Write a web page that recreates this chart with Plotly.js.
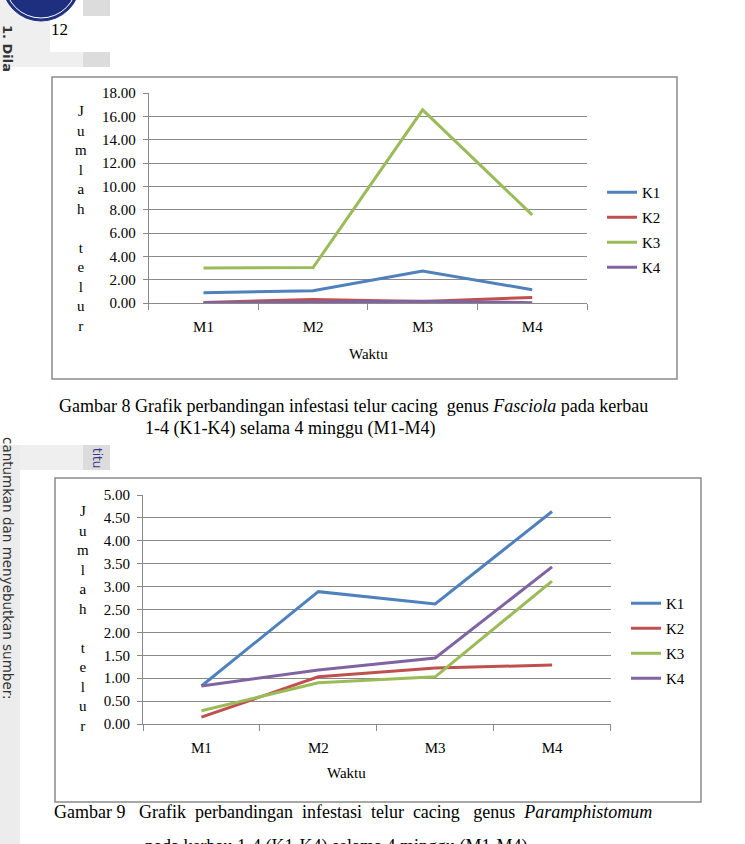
<!DOCTYPE html>
<html><head><meta charset="utf-8">
<script src="https://cdn.plot.ly/plotly-3.0.1.min.js"></script>
<style>html,body{margin:0;padding:0;background:#fff;overflow:hidden;} #chart{width:745px;height:844px;}</style>
</head><body><div id="chart"></div>
<script>
// ---- data ----
const weeks = ["M1", "M2", "M3", "M4"];
const seriesNames = ["K1", "K2", "K3", "K4"];
// Gambar 8: Fasciola
const fasciolaK1 = [0.88, 1.05, 2.74, 1.14];
const fasciolaK2 = [0.05, 0.30, 0.13, 0.48];
const fasciolaK3 = [3.00, 3.04, 16.55, 7.55];
const fasciolaK4 = [0.03, 0.10, 0.15, 0.03];
// Gambar 9: Paramphistomum
const paramK1 = [0.83, 2.89, 2.62, 4.64];
const paramK2 = [0.15, 1.03, 1.22, 1.29];
const paramK3 = [0.29, 0.90, 1.03, 3.12];
const paramK4 = [0.83, 1.18, 1.44, 3.43];
const yTicks1 = [0, 2, 4, 6, 8, 10, 12, 14, 16, 18];
const yTicks2 = [0, 0.5, 1, 1.5, 2, 2.5, 3, 3.5, 4, 4.5, 5];
const xTitle = "Waktu";
const yTitleLetters = ["J", "u", "m", "l", "a", "h", "", "t", "e", "l", "u", "r"];
const caption8a = "Gambar 8 Grafik perbandingan infestasi telur cacing  genus <i>Fasciola</i> pada kerbau";
const caption8b = "1-4 (K1-K4) selama 4 minggu (M1-M4)";
const caption9a = "Gambar 9   Grafik  perbandingan  infestasi  telur  cacing   genus  <i>Paramphistomum</i>";
const caption9b = "pada kerbau 1-4 (K1-K4) selama 4 minggu (M1-M4)";

// ---- styles ----
const colors = ["#4F81BD", "#C0504D", "#9BBB59", "#8064A2"];
const W = 745, H = 844;
const px = x => x / W;
const py = y => 1 - y / H;
const serif = "Liberation Serif, Times New Roman, serif";
const sans = "DejaVu Sans, sans-serif";
const grid = "#898989";

const set1 = [fasciolaK1, fasciolaK2, fasciolaK3, fasciolaK4];
const set2 = [paramK1, paramK2, paramK3, paramK4];
const traces = [];
set1.forEach((vals, i) => traces.push({
  x: weeks, y: vals, name: seriesNames[i], type: "scatter", mode: "lines",
  line: {color: colors[i], width: 3}, xaxis: "x", yaxis: "y",
  legend: "legend", legendgroup: "a" + i
}));
set2.forEach((vals, i) => traces.push({
  x: weeks, y: vals, name: seriesNames[i], type: "scatter", mode: "lines",
  line: {color: colors[i], width: 3}, xaxis: "x2", yaxis: "y2",
  legend: "legend2", legendgroup: "b" + i
}));

const fmt = v => v.toFixed(2);
const tickFont = {family: serif, size: 15, color: "#000"};
function xAxis(d0, d1, anchor) {
  return {domain: [px(d0), px(d1)], anchor: anchor, type: "category", range: [-0.5, 3.5],
    tickson: "boundaries", ticks: "outside", ticklen: 6, tickcolor: grid, tickwidth: 1,
    showline: true, linecolor: grid, linewidth: 1, showgrid: false, zeroline: false,
    tickfont: tickFont, ticklabelstandoff: 10, fixedrange: true};
}
function yAxis(top, bottom, anchor, maxv, ticks) {
  return {domain: [py(bottom), py(top)], anchor: anchor, range: [0, maxv],
    tickvals: ticks, ticktext: ticks.map(fmt), ticks: "outside", ticklen: 5, tickcolor: grid,
    showline: true, linecolor: grid, linewidth: 1, showgrid: true, gridcolor: grid, gridwidth: 1,
    zeroline: false, tickfont: tickFont, ticklabelstandoff: 4, fixedrange: true};
}

function legendAt(x, y) {
  return {x: px(x), y: py(y), xanchor: "left", yanchor: "top", bgcolor: "rgba(0,0,0,0)",
    font: {family: serif, size: 15, color: "#000"}, tracegroupgap: 2.5, itemwidth: 30};
}

const ann = [];
function txt(x, y, text, opts) {
  ann.push(Object.assign({x: px(x), y: py(y), xref: "paper", yref: "paper", text: text, showarrow: false,
    xanchor: "center", yanchor: "middle", font: {family: serif, size: 15, color: "#000"}}, opts || {}));
}
// y titles (stacked letters)
txt(81, 218, yTitleLetters.join("<br>"), {font: {family: serif, size: 15, color: "#000"}});
txt(83, 618, yTitleLetters.join("<br>"), {font: {family: serif, size: 15, color: "#000"}});
// x titles
txt(368, 354, xTitle);
txt(346, 773, xTitle);
// captions
const capFont = {family: serif, size: 18, color: "#000"};
txt(57, 406, caption8a, {xanchor: "left", font: capFont});
txt(143, 428, caption8b, {xanchor: "left", font: capFont});
txt(52, 812, caption9a, {xanchor: "left", font: capFont});
txt(143, 846, caption9b, {xanchor: "left", font: capFont});
// page number
txt(60, 30, "12", {font: {family: serif, size: 17, color: "#000"}});
// sidebar watermark texts
txt(8, 48, "<b>1. Dila</b>", {textangle: 90, font: {family: sans, size: 13, color: "#333"}});
txt(8, 568, "cantumkan dan menyebutkan sumber:", {textangle: 90, font: {family: sans, size: 13.5, color: "#333"}});
txt(97, 458, "titu", {textangle: 90, font: {family: sans, size: 12, color: "#3a3a8c"}});

const shapes = [
  // sidebar backgrounds
  {type: "rect", xref: "paper", yref: "paper", x0: 0, x1: px(50), y0: py(67), y1: py(0), fillcolor: "#efefef", line: {width: 0}, layer: "below"},
  {type: "rect", xref: "paper", yref: "paper", x0: px(83), x1: px(110), y0: py(16), y1: py(0), fillcolor: "#dcdcdc", line: {width: 0}, layer: "below"},
  {type: "rect", xref: "paper", yref: "paper", x0: px(83), x1: px(110), y0: py(67), y1: py(52), fillcolor: "#dcdcdc", line: {width: 0}, layer: "below"},
  {type: "rect", xref: "paper", yref: "paper", x0: px(50), x1: px(83), y0: py(67), y1: py(52), fillcolor: "#efefef", line: {width: 0}, layer: "below"},
  {type: "rect", xref: "paper", yref: "paper", x0: 0, x1: px(20), y0: 0, y1: py(445), fillcolor: "#ececec", line: {width: 0}, layer: "below"},
  {type: "rect", xref: "paper", yref: "paper", x0: px(20), x1: px(83), y0: py(470), y1: py(445), fillcolor: "#efefef", line: {width: 0}, layer: "below"},
  {type: "rect", xref: "paper", yref: "paper", x0: px(83), x1: px(110), y0: py(470), y1: py(445), fillcolor: "#dcdcdc", line: {width: 0}, layer: "below"},
  // logo
  {type: "circle", xref: "paper", yref: "paper", x0: px(2), x1: px(80), y0: py(21), y1: py(-57), fillcolor: "#1f2f80", line: {color: "#1f2f80", width: 1}, layer: "below"},
  {type: "circle", xref: "paper", yref: "paper", x0: px(5), x1: px(77), y0: py(18), y1: py(-54), fillcolor: "rgba(0,0,0,0)", line: {color: "#ffffff", width: 1}, layer: "below"},
  // chart boxes
  {type: "rect", xref: "paper", yref: "paper", x0: px(52), x1: px(677), y0: py(379), y1: py(77), line: {color: "#8a8a8a", width: 1.5}, fillcolor: "rgba(0,0,0,0)", layer: "below"},
  {type: "rect", xref: "paper", yref: "paper", x0: px(55), x1: px(701), y0: py(802), y1: py(478), line: {color: "#8a8a8a", width: 1.5}, fillcolor: "rgba(0,0,0,0)", layer: "below"}
];

const layout = {
  width: W, height: H, autosize: false, margin: {l: 0, r: 0, t: 0, b: 0, pad: 0},
  paper_bgcolor: "#fff", plot_bgcolor: "rgba(0,0,0,0)",
  showlegend: true,
  xaxis: xAxis(148.7, 587, "y"),
  yaxis: yAxis(93, 303, "x", 18, yTicks1),
  xaxis2: xAxis(143, 610.5, "y2"),
  yaxis2: yAxis(495, 724, "x2", 5, yTicks2),
  legend: legendAt(602, 176),
  legend2: legendAt(626, 587),
  annotations: ann, shapes: shapes
};
Plotly.newPlot("chart", traces, layout, {staticPlot: true, displayModeBar: false});
</script></body></html>
